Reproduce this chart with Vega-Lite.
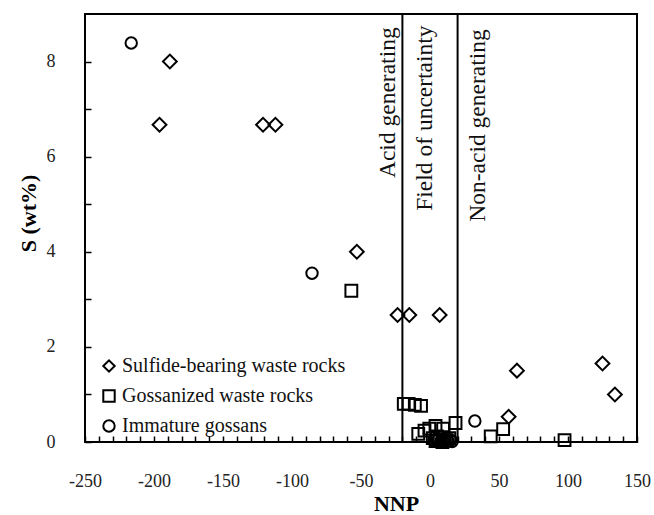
{
  "$schema": "https://vega.github.io/schema/vega-lite/v6.json",
  "width": 552,
  "height": 428,
  "autosize": {"type": "none"},
  "padding": {"left": 85, "top": 14, "right": 17, "bottom": 73},
  "background": "white",
  "config": {
    "view": {"stroke": "black", "strokeWidth": 2},
    "font": "Liberation Serif",
    "axis": {
      "grid": false,
      "domain": false,
      "tickColor": "black",
      "tickWidth": 1.5,
      "tickSize": 6,
      "offset": -6,
      "labelOverlap": false,
      "labelFlush": false,
      "labelFont": "Liberation Serif",
      "labelFontSize": 18,
      "labelColor": "#222",
      "titleFont": "Liberation Serif",
      "titleFontSize": 22,
      "titleFontWeight": "bold",
      "titleColor": "black"
    },
    "legend": {
      "orient": "none",
      "legendX": 14,
      "legendY": 342,
      "padding": 0,
      "labelFont": "Liberation Serif",
      "labelFontSize": 20,
      "labelColor": "#111",
      "labelLimit": 0,
      "labelOffset": 3,
      "rowPadding": 10,
      "symbolSize": 130,
      "symbolStrokeWidth": 2,
      "symbolStrokeColor": "black",
      "symbolFillColor": "white"
    }
  },
  "datasets": {
    "pts": [
      {"nnp": -188.5, "s": 8.0, "group": "Sulfide-bearing  waste rocks"},
      {"nnp": -196, "s": 6.67, "group": "Sulfide-bearing  waste rocks"},
      {"nnp": -121, "s": 6.67, "group": "Sulfide-bearing  waste rocks"},
      {"nnp": -112, "s": 6.67, "group": "Sulfide-bearing  waste rocks"},
      {"nnp": -53, "s": 4.0, "group": "Sulfide-bearing  waste rocks"},
      {"nnp": -23.5, "s": 2.67, "group": "Sulfide-bearing  waste rocks"},
      {"nnp": -15, "s": 2.67, "group": "Sulfide-bearing  waste rocks"},
      {"nnp": 7, "s": 2.67, "group": "Sulfide-bearing  waste rocks"},
      {"nnp": 63, "s": 1.5, "group": "Sulfide-bearing  waste rocks"},
      {"nnp": 125, "s": 1.65, "group": "Sulfide-bearing  waste rocks"},
      {"nnp": 134, "s": 1.0, "group": "Sulfide-bearing  waste rocks"},
      {"nnp": 57, "s": 0.53, "group": "Sulfide-bearing  waste rocks"},
      {"nnp": -57, "s": 3.18, "group": "Gossanized waste rocks"},
      {"nnp": -19, "s": 0.8, "group": "Gossanized waste rocks"},
      {"nnp": -15.5, "s": 0.8, "group": "Gossanized waste rocks"},
      {"nnp": -11, "s": 0.78, "group": "Gossanized waste rocks"},
      {"nnp": -6.5, "s": 0.76, "group": "Gossanized waste rocks"},
      {"nnp": 18.5, "s": 0.4, "group": "Gossanized waste rocks"},
      {"nnp": 44, "s": 0.12, "group": "Gossanized waste rocks"},
      {"nnp": 53, "s": 0.27, "group": "Gossanized waste rocks"},
      {"nnp": 97.5, "s": 0.04, "group": "Gossanized waste rocks"},
      {"nnp": -8.5, "s": 0.17, "group": "Gossanized waste rocks"},
      {"nnp": -4, "s": 0.24, "group": "Gossanized waste rocks"},
      {"nnp": -0.5, "s": 0.28, "group": "Gossanized waste rocks"},
      {"nnp": 4, "s": 0.34, "group": "Gossanized waste rocks"},
      {"nnp": 9.5, "s": 0.28, "group": "Gossanized waste rocks"},
      {"nnp": 2, "s": 0.08, "group": "Gossanized waste rocks"},
      {"nnp": 5, "s": 0.12, "group": "Gossanized waste rocks"},
      {"nnp": 7, "s": 0.05, "group": "Gossanized waste rocks"},
      {"nnp": 10, "s": 0.1, "group": "Gossanized waste rocks"},
      {"nnp": 12, "s": 0.04, "group": "Gossanized waste rocks"},
      {"nnp": 14, "s": 0.08, "group": "Gossanized waste rocks"},
      {"nnp": 4, "s": 0.02, "group": "Gossanized waste rocks"},
      {"nnp": 9, "s": 0.0, "group": "Gossanized waste rocks"},
      {"nnp": -216.5, "s": 8.39, "group": "Immature gossans"},
      {"nnp": -85.5, "s": 3.55, "group": "Immature gossans"},
      {"nnp": 32.5, "s": 0.44, "group": "Immature gossans"},
      {"nnp": 3, "s": 0.03, "group": "Immature gossans"},
      {"nnp": 6, "s": 0.06, "group": "Immature gossans"},
      {"nnp": 8, "s": 0.02, "group": "Immature gossans"},
      {"nnp": 11, "s": 0.05, "group": "Immature gossans"},
      {"nnp": 13, "s": 0.02, "group": "Immature gossans"},
      {"nnp": 15, "s": 0.04, "group": "Immature gossans"},
      {"nnp": 16, "s": 0.01, "group": "Immature gossans"}
    ],
    "lines": [{"nnp": -20}, {"nnp": 20}],
    "labels": [
      {"nnp": -30.5, "s": 8.72, "txt": "Acid generating"},
      {"nnp": -3.4, "s": 8.76, "txt": "Field of uncertainty"},
      {"nnp": 35, "s": 8.68, "txt": "Non-acid generating"}
    ]
  },
  "encoding": {
    "x": {
      "field": "nnp", "type": "quantitative",
      "scale": {"domain": [-250, 150], "nice": false, "zero": false},
      "axis": {
        "title": "NNP",
        "values": [-250,-240,-230,-220,-210,-200,-190,-180,-170,-160,-150,-140,-130,-120,-110,-100,-90,-80,-70,-60,-50,-40,-30,-20,-10,0,10,20,30,40,50,60,70,80,90,100,110,120,130,140,150],
        "tickCount": 60,
        "labelExpr": "datum.value % 50 === 0 ? '' + datum.value : ''",
        "labelOverlap": false,
        "labelPadding": 30,
        "titleX": 311,
        "titleY": 74,
        "titleBaseline": "alphabetic",
        "titleAnchor": "middle"
      }
    }
  },
  "layer": [
    {
      "data": {"name": "lines"},
      "mark": {"type": "rule", "color": "black", "strokeWidth": 2},
      "encoding": {}
    },
    {
      "data": {"name": "labels"},
      "mark": {"type": "text", "angle": 270, "align": "right", "baseline": "middle", "fontSize": 23.5, "font": "Liberation Serif", "color": "#111"},
      "encoding": {
        "y": {"field": "s", "type": "quantitative", "scale": {"domain": [0, 9], "nice": false}},
        "text": {"field": "txt"}
      }
    },
    {
      "data": {"name": "pts"},
      "transform": [{"filter": "datum.group === 'Sulfide-bearing  waste rocks'"}],
      "mark": {"type": "point", "filled": false, "color": "black", "strokeWidth": 2, "opacity": 1, "size": 190},
      "encoding": {
        "y": {
          "field": "s", "type": "quantitative",
          "scale": {"domain": [0, 9], "nice": false},
          "axis": {
            "title": "S (wt%)",
            "values": [0,1,2,3,4,5,6,7,8],
            "tickCount": 20,
            "labelExpr": "datum.value % 2 === 0 ? '' + datum.value : ''",
            "labelOverlap": false,
            "labelPadding": 30,
            "titleX": -63,
            "titleY": 199,
            "titleAngle": 270,
            "titleBaseline": "middle",
            "titleAlign": "center"
          }
        },
        "shape": {
          "field": "group", "type": "nominal",
          "scale": {"domain": ["Sulfide-bearing  waste rocks", "Gossanized waste rocks", "Immature gossans"], "range": ["diamond", "square", "circle"]},
          "legend": {"title": null}
        }
      }
    },
    {
      "data": {"name": "pts"},
      "transform": [{"filter": "datum.group === 'Gossanized waste rocks'"}],
      "mark": {"type": "point", "filled": false, "color": "black", "strokeWidth": 2, "opacity": 1, "size": 140},
      "encoding": {
        "y": {"field": "s", "type": "quantitative"},
        "shape": {"field": "group", "type": "nominal", "legend": {"title": null}}
      }
    },
    {
      "data": {"name": "pts"},
      "transform": [{"filter": "datum.group === 'Immature gossans'"}],
      "mark": {"type": "point", "filled": false, "color": "black", "strokeWidth": 2, "opacity": 1, "size": 130},
      "encoding": {
        "y": {"field": "s", "type": "quantitative"},
        "shape": {"field": "group", "type": "nominal", "legend": {"title": null}}
      }
    }
  ]
}
